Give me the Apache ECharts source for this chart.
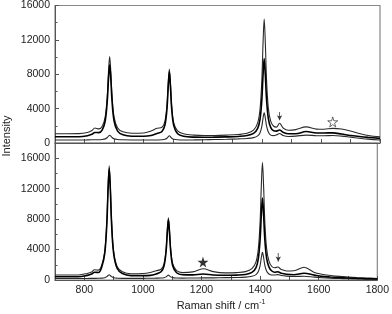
<!DOCTYPE html>
<html>
<head>
<meta charset="utf-8">
<script src="https://cdn.jsdelivr.net/npm/echarts@6/dist/echarts.min.js"></script>
<style>html,body{margin:0;padding:0;background:#fff;}#c{width:392px;height:314px;}</style>
</head>
<body>
<div id="c"></div>
<script>
// Raman shift positions (cm-1)
const wavenumbers = [700,740,780,810,825,835,848,860,870,877,881,885,889,893,900,912,930,960,1000,1025,1045,1062,1072,1079,1083,1087,1091,1095,1102,1115,1135,1170,1205,1240,1280,1320,1350,1372,1386,1394,1400,1404,1408,1412,1416,1422,1430,1440,1450,1460,1472,1490,1515,1550,1585,1610,1640,1670,1700,1730,1760,1800];
// Top panel spectra
const topA = [1080,1080,1090,1220,1450,1750,1640,1950,3070,5550,8250,10050,8250,5550,3020,1750,1300,1140,1160,1400,1710,1830,2520,4410,6860,8600,6750,4290,2330,1400,1070,920,870,875,916,990,1125,1490,2340,3950,7280,11460,14430,11490,7340,4080,2540,1950,1850,2300,1750,1480,1560,1880,1620,1600,1700,1620,1400,1100,880,730];
const topB = [720,720,730,850,1010,1230,1210,1540,2590,4915,7430,9110,7430,4910,2560,1380,950,785,780,870,1105,1345,2090,3990,6415,8280,6410,3970,2020,1080,785,680,663,680,710,765,865,1120,1700,2780,5010,7830,9820,7850,5060,2870,1820,1420,1385,1510,1250,1075,1075,1330,1170,1170,1180,1040,870,755,655,540];
const topC = [350,350,350,360,370,385,385,410,480,635,800,910,800,635,480,405,372,350,345,350,355,377,430,557,717,840,717,557,430,370,350,360,380,400,430,480,527,624,827,1188,1930,2858,3520,2880,1980,1278,920,853,946,1110,875,760,800,920,850,840,870,800,680,560,450,350];
// Bottom panel spectra
const botA = [650,650,660,856,1050,1350,1300,2025,3840,7830,12140,15020,12140,7830,3800,1785,1080,813,852,995,1211,1412,2128,3988,6362,8185,6360,4008,2104,1225,967,1067,1470,1102,939,969,1098,1484,2378,4119,7693,12216,15430,12236,7741,4197,2505,1774,1615,1700,1395,1186,1212,1685,1000,760,600,480,400,330,270,200];
const botB = [420,420,425,611,786,1025,980,1766,3563,7510,11765,14605,11765,7505,3538,1550,845,578,572,604,790,1081,1840,3714,6076,7897,6080,3708,1828,950,691,669,784,665,616,644,722,996,1631,2853,5355,8522,10770,8537,5390,2913,1726,1180,1020,1080,890,755,692,880,642,480,390,320,270,220,180,140];
const botC = [200,200,200,205,210,215,222,245,306,440,584,680,584,440,306,240,215,210,220,222,241,259,307,409,537,635,537,409,307,265,250,260,275,285,306,333,381,494,713,1104,1906,2908,3625,2928,1943,1175,791,654,657,709,593,514,464,500,374,305,240,200,170,140,120,100];
// Tick labels
const xTickLabels = [800,1000,1200,1400,1600,1800];
const yTickLabels = [0,4000,8000,12000,16000];
// Annotation markers [x, y]
const openStarTop = [1640, 2450];
const filledStarBottom = [1205, 2360];
const arrowTop = [[1460, 3600], [1460, 2650]];
const arrowBottom = [[1462, 3540], [1462, 2420]];

const pair = arr => wavenumbers.map((x, i) => [x, arr[i]]);
const starPath = 'path://M50,0 L61,35 L98,35 L68,57 L79,91 L50,70 L21,91 L32,57 L2,35 L39,35 Z';
const FONT = 'Liberation Sans, Arial, sans-serif';

function xAx(gi, showLabels) {
  return {
    gridIndex: gi, type: 'value', min: 700, max: 1800, interval: 100,
    axisLine: { show: true, onZero: false, lineStyle: { color: '#555', width: 1 } },
    axisTick: { show: true, inside: true, length: 4, lineStyle: { color: '#555' } },
    splitLine: { show: false },
    axisLabel: {
      show: showLabels, fontSize: 10.5, color: '#222', fontFamily: FONT, margin: 5,
      formatter: v => xTickLabels.includes(v) ? String(v) : ''
    }
  };
}
function yAx(gi, max) {
  return {
    gridIndex: gi, type: 'value', min: 0, max: max, interval: 4000,
    axisLine: { show: true, lineStyle: { color: '#555', width: 1 } },
    axisTick: { show: true, inside: true, length: 4, lineStyle: { color: '#555' } },
    minorTick: { show: true, splitNumber: 2, length: 2.5, lineStyle: { color: '#555' } },
    splitLine: { show: false },
    axisLabel: {
      fontSize: 10.5, color: '#222', fontFamily: FONT, margin: 5, showMaxLabel: max === 16000,
      formatter: v => yTickLabels.includes(v) ? String(v) : ''
    }
  };
}
function spec(gi, arr, w, col) {
  return {
    type: 'line', xAxisIndex: gi, yAxisIndex: gi, data: pair(arr),
    showSymbol: false, symbol: 'none', smooth: 0.35,
    lineStyle: { color: col, width: w }, silent: true
  };
}
function arrow(gi, pts) {
  return {
    type: 'line', xAxisIndex: gi, yAxisIndex: gi,
    data: [{ value: pts[0], symbol: 'none' }, { value: pts[1], symbol: 'arrow', symbolSize: [4, 5], symbolRotate: 180 }],
    lineStyle: { color: '#333', width: 0.8 }, itemStyle: { color: '#333' }, silent: true
  };
}

const chart = echarts.init(document.getElementById('c'), null, { renderer: 'canvas' });
chart.setOption({
  animation: false,
  backgroundColor: '#fff',
  grid: [
    { left: 55, right: 12, top: 4, height: 139, show: true, borderColor: '#888', borderWidth: 1.2, backgroundColor: 'transparent' },
    { left: 55, right: 12, top: 143, height: 137, show: true, borderColor: '#888', borderWidth: 1.2, backgroundColor: 'transparent' }
  ],
  xAxis: [xAx(0, false), xAx(1, true)],
  yAxis: [yAx(0, 16000), yAx(1, 18000)],
  series: [
    spec(0, topA, 1.1, '#2a2a2a'),
    spec(0, topC, 1.1, '#2a2a2a'),
    spec(0, topB, 1.6, '#000'),
    spec(1, botA, 1.1, '#2a2a2a'),
    spec(1, botC, 1.1, '#2a2a2a'),
    spec(1, botB, 1.6, '#000'),
    arrow(0, arrowTop),
    arrow(1, arrowBottom),
    { type: 'scatter', xAxisIndex: 0, yAxisIndex: 0, data: [openStarTop], symbol: starPath, symbolSize: 10,
      itemStyle: { color: '#fff', borderColor: '#333', borderWidth: 0.9 }, silent: true },
    { type: 'scatter', xAxisIndex: 1, yAxisIndex: 1, data: [filledStarBottom], symbol: starPath, symbolSize: 11,
      itemStyle: { color: '#000' }, silent: true }
  ],
  graphic: [
    { type: 'text', x: 7, y: 136, rotation: Math.PI / 2, style: { text: 'Intensity', fontSize: 11, fontFamily: FONT, fill: '#222', align: 'center', verticalAlign: 'middle' } },
    { type: 'text', x: 221, y: 306, style: {
        text: '{a|Raman shift / cm}{s|-1}', fontFamily: FONT, fill: '#222', align: 'center', verticalAlign: 'middle',
        rich: { a: { fontSize: 11, fontFamily: FONT, fill: '#222' }, s: { fontSize: 7, fontFamily: FONT, fill: '#222', verticalAlign: 'top', padding: [0, 0, 8, 0] } }
      } }
  ]
});
</script>
</body>
</html>
